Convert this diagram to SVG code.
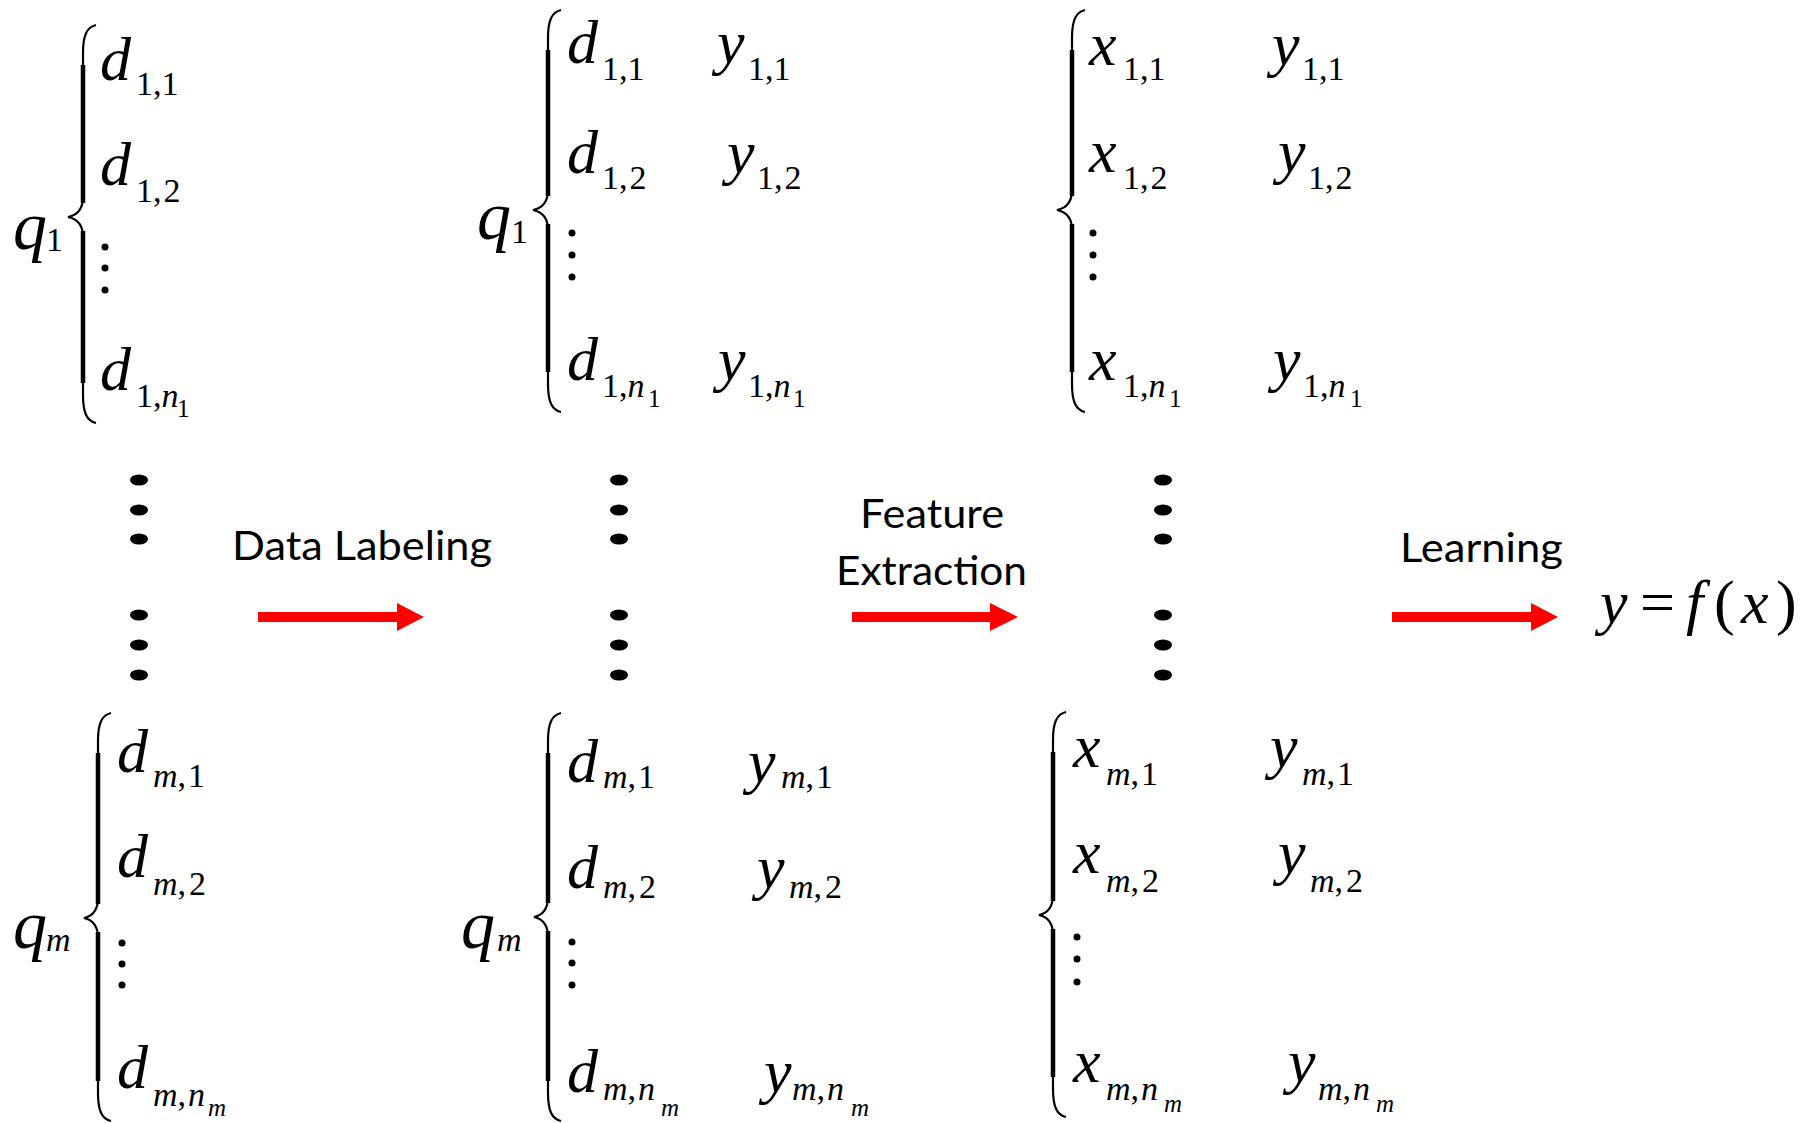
<svg xmlns="http://www.w3.org/2000/svg" width="1816" height="1123" viewBox="0 0 1816 1123">
<style>
.m{font-style:italic;font-size:62px;fill:#000}
.q{font-style:italic;font-size:68px;fill:#000}
.s{font-style:normal;font-size:34px;fill:#000}
.si{font-style:italic}
.ss{font-style:normal;font-size:25px;fill:#000}
.ssi{font-style:italic;font-size:25px;fill:#000}
.up{font-style:normal;font-size:62px;fill:#000}
.brace{fill:none;stroke:#000;stroke-width:2.2}
.bthick{fill:none;stroke:#000;stroke-width:4.5}
.lbl{font-family:Lato;font-size:41px;fill:#000}
.arrow{fill:#FF0000}
</style>
<rect width="1816" height="1123" fill="#fff"/>
<g font-family="Liberation Serif">
<g id="group-q1-raw">
<path class="brace" d="M96,25 C87,27 83,35 83,53 L83,197 C83,209 78,215 68,217 C78,219 83,225 83,237 L83,395 C83,413 87,421 96,423"/>
<path class="bthick" d="M83,65 V203 M83,231 V383"/>
<text class="q" x="13" y="249">q</text><text class="s" x="46" y="251">1</text>
<text class="m" x="100" y="80">d</text><text class="s" x="136" y="95">1,1</text>
<text class="m" x="100" y="185">d</text><text class="s" x="136" y="202">1,<tspan dx="2">2</tspan></text>
<circle cx="105" cy="247" r="3.5"/><circle cx="105" cy="268" r="3.5"/><circle cx="105" cy="290" r="3.5"/>
<text class="m" x="100" y="390">d</text><text class="s" x="136" y="407">1,<tspan class="si">n</tspan></text><text class="ss" x="177" y="417">1</text>
</g>

<g id="group-q1-labeled">
<path class="brace" d="M561,10 C552,12 548,20 548,38 L548,190 C548,202 543,208 533,210 C543,212 548,218 548,230 L548,384 C548,402 552,410 561,412"/>
<path class="bthick" d="M548,50 V196 M548,224 V372"/>
<text class="q" x="477" y="239">q</text><text class="s" x="511" y="243">1</text>
<text class="m" x="567" y="63">d</text><text class="s" x="602" y="80">1,1</text>
<text class="m" x="717" y="63">y</text><text class="s" x="748" y="80">1,1</text>
<text class="m" x="567" y="173">d</text><text class="s" x="602" y="189">1,<tspan dx="2">2</tspan></text>
<text class="m" x="727" y="173">y</text><text class="s" x="757" y="189">1,<tspan dx="2">2</tspan></text>
<circle cx="572" cy="233" r="3.5"/><circle cx="572" cy="255" r="3.5"/><circle cx="572" cy="277" r="3.5"/>
<text class="m" x="567" y="380">d</text><text class="s" x="602" y="397">1,<tspan class="si">n</tspan></text><text class="ss" x="648" y="407">1</text>
<text class="m" x="718" y="380">y</text><text class="s" x="748" y="397">1,<tspan class="si">n</tspan></text><text class="ss" x="793" y="407">1</text>
</g>

<g id="group-x1">
<path class="brace" d="M1085,10 C1076,12 1072,20 1072,38 L1072,190 C1072,202 1067,208 1057,210 C1067,212 1072,218 1072,230 L1072,384 C1072,402 1076,410 1085,412"/>
<path class="bthick" d="M1072,50 V196 M1072,224 V372"/>
<text class="m" x="1089" y="65">x</text><text class="s" x="1123" y="80">1,1</text>
<text class="m" x="1272" y="65">y</text><text class="s" x="1302" y="80">1,1</text>
<text class="m" x="1089" y="172">x</text><text class="s" x="1123" y="189">1,<tspan dx="2">2</tspan></text>
<text class="m" x="1278" y="172">y</text><text class="s" x="1308" y="189">1,<tspan dx="2">2</tspan></text>
<circle cx="1093" cy="233" r="3.5"/><circle cx="1093" cy="255" r="3.5"/><circle cx="1093" cy="277" r="3.5"/>
<text class="m" x="1089" y="380">x</text><text class="s" x="1123" y="397">1,<tspan class="si">n</tspan></text><text class="ss" x="1169" y="407">1</text>
<text class="m" x="1273" y="380">y</text><text class="s" x="1303" y="397">1,<tspan class="si">n</tspan></text><text class="ss" x="1350" y="407">1</text>
</g>

<g id="group-qm-raw">
<path class="brace" d="M111,713 C102,715 98,723 98,741 L98,898 C98,910 93,916 84,918 C93,920 98,926 98,938 L98,1093 C98,1111 102,1119 111,1121"/>
<path class="bthick" d="M98,753 V904 M98,932 V1081"/>
<text class="q" x="13" y="948">q</text><text class="s si" x="46" y="951">m</text>
<text class="m" x="117" y="772">d</text><text class="s" x="153" y="787"><tspan class="si">m</tspan>,<tspan dx="2">1</tspan></text>
<text class="m" x="117" y="877">d</text><text class="s" x="153" y="895"><tspan class="si">m</tspan>,<tspan dx="3">2</tspan></text>
<circle cx="122" cy="943" r="3.5"/><circle cx="122" cy="964" r="3.5"/><circle cx="122" cy="985" r="3.5"/>
<text class="m" x="117" y="1088">d</text><text class="s" x="153" y="1106"><tspan class="si">m</tspan>,<tspan class="si" dx="2">n</tspan></text><text class="ssi" x="208" y="1116">m</text>
</g>

<g id="group-qm-labeled">
<path class="brace" d="M561,713 C552,715 548,723 548,741 L548,897 C548,909 543,915 534,917 C543,919 548,925 548,937 L548,1093 C548,1111 552,1119 561,1121"/>
<path class="bthick" d="M548,753 V903 M548,931 V1081"/>
<text class="q" x="461" y="948">q</text><text class="s si" x="497" y="951">m</text>
<text class="m" x="567" y="782">d</text><text class="s" x="603" y="788"><tspan class="si">m</tspan>,<tspan dx="2">1</tspan></text>
<text class="m" x="748" y="782">y</text><text class="s" x="781" y="788"><tspan class="si">m</tspan>,<tspan dx="2">1</tspan></text>
<text class="m" x="567" y="888">d</text><text class="s" x="603" y="898"><tspan class="si">m</tspan>,<tspan dx="3">2</tspan></text>
<text class="m" x="757" y="888">y</text><text class="s" x="789" y="898"><tspan class="si">m</tspan>,<tspan dx="3">2</tspan></text>
<circle cx="572" cy="942" r="3.5"/><circle cx="572" cy="963" r="3.5"/><circle cx="572" cy="985" r="3.5"/>
<text class="m" x="567" y="1092">d</text><text class="s" x="603" y="1100"><tspan class="si">m</tspan>,<tspan class="si" dx="2">n</tspan></text><text class="ssi" x="661" y="1116">m</text>
<text class="m" x="764" y="1092">y</text><text class="s" x="792" y="1100"><tspan class="si">m</tspan>,<tspan class="si" dx="2">n</tspan></text><text class="ssi" x="851" y="1116">m</text>
</g>

<g id="group-xm">
<path class="brace" d="M1066,712 C1057,714 1053,722 1053,740 L1053,895 C1053,907 1048,913 1039,915 C1048,917 1053,923 1053,935 L1053,1089 C1053,1107 1057,1115 1066,1117"/>
<path class="bthick" d="M1053,752 V901 M1053,929 V1077"/>
<text class="m" x="1073" y="767">x</text><text class="s" x="1106" y="785"><tspan class="si">m</tspan>,<tspan dx="2">1</tspan></text>
<text class="m" x="1270" y="767">y</text><text class="s" x="1302" y="785"><tspan class="si">m</tspan>,<tspan dx="2">1</tspan></text>
<text class="m" x="1073" y="873">x</text><text class="s" x="1106" y="892"><tspan class="si">m</tspan>,<tspan dx="3">2</tspan></text>
<text class="m" x="1278" y="873">y</text><text class="s" x="1310" y="892"><tspan class="si">m</tspan>,<tspan dx="3">2</tspan></text>
<circle cx="1077" cy="937" r="3.5"/><circle cx="1077" cy="959" r="3.5"/><circle cx="1077" cy="982" r="3.5"/>
<text class="m" x="1073" y="1082">x</text><text class="s" x="1106" y="1100"><tspan class="si">m</tspan>,<tspan class="si" dx="2">n</tspan></text><text class="ssi" x="1164" y="1112">m</text>
<text class="m" x="1288" y="1082">y</text><text class="s" x="1318" y="1100"><tspan class="si">m</tspan>,<tspan class="si" dx="2">n</tspan></text><text class="ssi" x="1376" y="1112">m</text>
</g>

<g id="result">
<text class="m" x="1600" y="623">y</text>
<text class="up" x="1640" y="623">=</text>
<text class="m" x="1686" y="623">f</text>
<text class="up" x="1714" y="623">(</text>
<text class="m" x="1741" y="623">x</text>
<text class="up" x="1776" y="623">)</text>
</g>
</g>

<g id="ellipses">
<ellipse cx="139" cy="480" rx="9" ry="5.5"/><ellipse cx="139" cy="510" rx="9" ry="5.5"/><ellipse cx="139" cy="539" rx="9" ry="5.5"/>
<ellipse cx="139" cy="615" rx="9" ry="5.5"/><ellipse cx="139" cy="645" rx="9" ry="5.5"/><ellipse cx="139" cy="675" rx="9" ry="5.5"/>
<ellipse cx="619" cy="480" rx="9" ry="5.5"/><ellipse cx="619" cy="510" rx="9" ry="5.5"/><ellipse cx="619" cy="539" rx="9" ry="5.5"/>
<ellipse cx="619" cy="615" rx="9" ry="5.5"/><ellipse cx="619" cy="645" rx="9" ry="5.5"/><ellipse cx="619" cy="675" rx="9" ry="5.5"/>
<ellipse cx="1163" cy="480" rx="9" ry="5.5"/><ellipse cx="1163" cy="510" rx="9" ry="5.5"/><ellipse cx="1163" cy="539" rx="9" ry="5.5"/>
<ellipse cx="1163" cy="615" rx="9" ry="5.5"/><ellipse cx="1163" cy="645" rx="9" ry="5.5"/><ellipse cx="1163" cy="675" rx="9" ry="5.5"/>
</g>

<g id="labels">
<text class="lbl" x="232" y="560" textLength="260" lengthAdjust="spacingAndGlyphs">Data Labeling</text>
<text class="lbl" x="860" y="528" textLength="144" lengthAdjust="spacingAndGlyphs">Feature</text>
<text class="lbl" x="836" y="585" textLength="191" lengthAdjust="spacingAndGlyphs">Extraction</text>
<text class="lbl" x="1400" y="562" textLength="163" lengthAdjust="spacingAndGlyphs">Learning</text>
</g>

<g id="connectors">
<path class="arrow" d="M258,612 H397 V603 L424,617 L397,631 V622 H258 Z"/>
<path class="arrow" d="M852,612 H990 V603 L1018,617 L990,631 V622 H852 Z"/>
<path class="arrow" d="M1392,612 H1531 V603 L1558,617 L1531,631 V622 H1392 Z"/>
</g>
</svg>
